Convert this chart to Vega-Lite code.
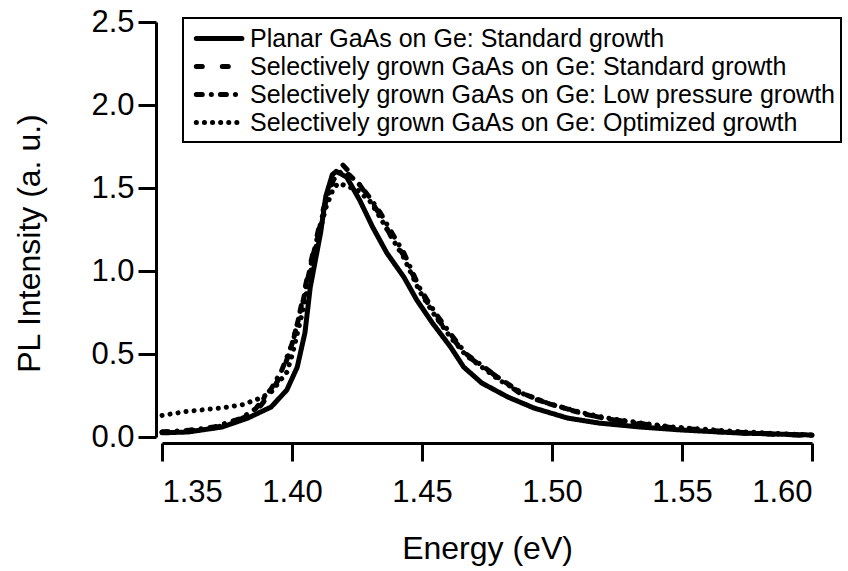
{
  "$schema": "https://vega.github.io/schema/vega-lite/v6.json",
  "width": 650,
  "height": 415,
  "autosize": "none",
  "padding": {"left": 162, "top": 22, "right": 36, "bottom": 134},
  "background": "white",
  "config": {
    "view": {"stroke": null},
    "font": "Liberation Sans",
    "axis": {
      "grid": false,
      "domainColor": "black",
      "domainWidth": 3,
      "tickColor": "black",
      "tickWidth": 3,
      "tickSize": 18,
      "labelFont": "Liberation Sans",
      "labelFontSize": 31,
      "labelColor": "black",
      "titleFont": "Liberation Sans",
      "titleFontSize": 32,
      "titleFontWeight": "normal",
      "titleColor": "black",
      "offset": 6
    },
    "legend": {
      "labelFont": "Liberation Sans",
      "labelFontSize": 25,
      "labelColor": "black",
      "labelLimit": 800
    }
  },
  "data": {
    "values": [
      {"series": "Planar GaAs on Ge: Standard growth", "E": 1.350, "I": 0.025},
      {"series": "Planar GaAs on Ge: Standard growth", "E": 1.360, "I": 0.030},
      {"series": "Planar GaAs on Ge: Standard growth", "E": 1.373, "I": 0.060},
      {"series": "Planar GaAs on Ge: Standard growth", "E": 1.383, "I": 0.114},
      {"series": "Planar GaAs on Ge: Standard growth", "E": 1.392, "I": 0.181},
      {"series": "Planar GaAs on Ge: Standard growth", "E": 1.398, "I": 0.283},
      {"series": "Planar GaAs on Ge: Standard growth", "E": 1.402, "I": 0.420},
      {"series": "Planar GaAs on Ge: Standard growth", "E": 1.405, "I": 0.630},
      {"series": "Planar GaAs on Ge: Standard growth", "E": 1.407, "I": 0.900},
      {"series": "Planar GaAs on Ge: Standard growth", "E": 1.411, "I": 1.230},
      {"series": "Planar GaAs on Ge: Standard growth", "E": 1.413, "I": 1.450},
      {"series": "Planar GaAs on Ge: Standard growth", "E": 1.4155, "I": 1.580},
      {"series": "Planar GaAs on Ge: Standard growth", "E": 1.417, "I": 1.600},
      {"series": "Planar GaAs on Ge: Standard growth", "E": 1.421, "I": 1.566},
      {"series": "Planar GaAs on Ge: Standard growth", "E": 1.426, "I": 1.428},
      {"series": "Planar GaAs on Ge: Standard growth", "E": 1.431, "I": 1.265},
      {"series": "Planar GaAs on Ge: Standard growth", "E": 1.4365, "I": 1.108},
      {"series": "Planar GaAs on Ge: Standard growth", "E": 1.443, "I": 0.964},
      {"series": "Planar GaAs on Ge: Standard growth", "E": 1.448, "I": 0.825},
      {"series": "Planar GaAs on Ge: Standard growth", "E": 1.454, "I": 0.687},
      {"series": "Planar GaAs on Ge: Standard growth", "E": 1.461, "I": 0.542},
      {"series": "Planar GaAs on Ge: Standard growth", "E": 1.466, "I": 0.422},
      {"series": "Planar GaAs on Ge: Standard growth", "E": 1.473, "I": 0.325},
      {"series": "Planar GaAs on Ge: Standard growth", "E": 1.483, "I": 0.241},
      {"series": "Planar GaAs on Ge: Standard growth", "E": 1.493, "I": 0.175},
      {"series": "Planar GaAs on Ge: Standard growth", "E": 1.506, "I": 0.114},
      {"series": "Planar GaAs on Ge: Standard growth", "E": 1.518, "I": 0.084},
      {"series": "Planar GaAs on Ge: Standard growth", "E": 1.534, "I": 0.060},
      {"series": "Planar GaAs on Ge: Standard growth", "E": 1.550, "I": 0.042},
      {"series": "Planar GaAs on Ge: Standard growth", "E": 1.572, "I": 0.024},
      {"series": "Planar GaAs on Ge: Standard growth", "E": 1.600, "I": 0.012},

      {"series": "Selectively grown GaAs on Ge: Standard growth", "E": 1.350, "I": 0.030},
      {"series": "Selectively grown GaAs on Ge: Standard growth", "E": 1.360, "I": 0.035},
      {"series": "Selectively grown GaAs on Ge: Standard growth", "E": 1.370, "I": 0.055},
      {"series": "Selectively grown GaAs on Ge: Standard growth", "E": 1.378, "I": 0.090},
      {"series": "Selectively grown GaAs on Ge: Standard growth", "E": 1.383, "I": 0.130},
      {"series": "Selectively grown GaAs on Ge: Standard growth", "E": 1.388, "I": 0.190},
      {"series": "Selectively grown GaAs on Ge: Standard growth", "E": 1.392, "I": 0.270},
      {"series": "Selectively grown GaAs on Ge: Standard growth", "E": 1.396, "I": 0.380},
      {"series": "Selectively grown GaAs on Ge: Standard growth", "E": 1.400, "I": 0.550},
      {"series": "Selectively grown GaAs on Ge: Standard growth", "E": 1.403, "I": 0.750},
      {"series": "Selectively grown GaAs on Ge: Standard growth", "E": 1.406, "I": 0.970},
      {"series": "Selectively grown GaAs on Ge: Standard growth", "E": 1.409, "I": 1.170},
      {"series": "Selectively grown GaAs on Ge: Standard growth", "E": 1.412, "I": 1.370},
      {"series": "Selectively grown GaAs on Ge: Standard growth", "E": 1.415, "I": 1.530},
      {"series": "Selectively grown GaAs on Ge: Standard growth", "E": 1.4175, "I": 1.620},
      {"series": "Selectively grown GaAs on Ge: Standard growth", "E": 1.4192, "I": 1.645},
      {"series": "Selectively grown GaAs on Ge: Standard growth", "E": 1.4242, "I": 1.560},
      {"series": "Selectively grown GaAs on Ge: Standard growth", "E": 1.430, "I": 1.430},
      {"series": "Selectively grown GaAs on Ge: Standard growth", "E": 1.4338, "I": 1.340},
      {"series": "Selectively grown GaAs on Ge: Standard growth", "E": 1.4377, "I": 1.220},
      {"series": "Selectively grown GaAs on Ge: Standard growth", "E": 1.4427, "I": 1.100},
      {"series": "Selectively grown GaAs on Ge: Standard growth", "E": 1.4492, "I": 0.890},
      {"series": "Selectively grown GaAs on Ge: Standard growth", "E": 1.4542, "I": 0.750},
      {"series": "Selectively grown GaAs on Ge: Standard growth", "E": 1.4608, "I": 0.610},
      {"series": "Selectively grown GaAs on Ge: Standard growth", "E": 1.4673, "I": 0.490},
      {"series": "Selectively grown GaAs on Ge: Standard growth", "E": 1.4735, "I": 0.420},
      {"series": "Selectively grown GaAs on Ge: Standard growth", "E": 1.480, "I": 0.350},
      {"series": "Selectively grown GaAs on Ge: Standard growth", "E": 1.4888, "I": 0.250},
      {"series": "Selectively grown GaAs on Ge: Standard growth", "E": 1.4992, "I": 0.200},
      {"series": "Selectively grown GaAs on Ge: Standard growth", "E": 1.512, "I": 0.140},
      {"series": "Selectively grown GaAs on Ge: Standard growth", "E": 1.521, "I": 0.110},
      {"series": "Selectively grown GaAs on Ge: Standard growth", "E": 1.534, "I": 0.080},
      {"series": "Selectively grown GaAs on Ge: Standard growth", "E": 1.5465, "I": 0.050},
      {"series": "Selectively grown GaAs on Ge: Standard growth", "E": 1.5596, "I": 0.036},
      {"series": "Selectively grown GaAs on Ge: Standard growth", "E": 1.572, "I": 0.024},
      {"series": "Selectively grown GaAs on Ge: Standard growth", "E": 1.599, "I": 0.008},

      {"series": "Selectively grown GaAs on Ge: Low pressure growth", "E": 1.350, "I": 0.030},
      {"series": "Selectively grown GaAs on Ge: Low pressure growth", "E": 1.360, "I": 0.040},
      {"series": "Selectively grown GaAs on Ge: Low pressure growth", "E": 1.370, "I": 0.060},
      {"series": "Selectively grown GaAs on Ge: Low pressure growth", "E": 1.380, "I": 0.110},
      {"series": "Selectively grown GaAs on Ge: Low pressure growth", "E": 1.386, "I": 0.170},
      {"series": "Selectively grown GaAs on Ge: Low pressure growth", "E": 1.392, "I": 0.290},
      {"series": "Selectively grown GaAs on Ge: Low pressure growth", "E": 1.396, "I": 0.400},
      {"series": "Selectively grown GaAs on Ge: Low pressure growth", "E": 1.400, "I": 0.560},
      {"series": "Selectively grown GaAs on Ge: Low pressure growth", "E": 1.404, "I": 0.800},
      {"series": "Selectively grown GaAs on Ge: Low pressure growth", "E": 1.407, "I": 1.020},
      {"series": "Selectively grown GaAs on Ge: Low pressure growth", "E": 1.410, "I": 1.220},
      {"series": "Selectively grown GaAs on Ge: Low pressure growth", "E": 1.413, "I": 1.420},
      {"series": "Selectively grown GaAs on Ge: Low pressure growth", "E": 1.416, "I": 1.550},
      {"series": "Selectively grown GaAs on Ge: Low pressure growth", "E": 1.419, "I": 1.600},
      {"series": "Selectively grown GaAs on Ge: Low pressure growth", "E": 1.422, "I": 1.580},
      {"series": "Selectively grown GaAs on Ge: Low pressure growth", "E": 1.426, "I": 1.520},
      {"series": "Selectively grown GaAs on Ge: Low pressure growth", "E": 1.430, "I": 1.440},
      {"series": "Selectively grown GaAs on Ge: Low pressure growth", "E": 1.434, "I": 1.350},
      {"series": "Selectively grown GaAs on Ge: Low pressure growth", "E": 1.438, "I": 1.240},
      {"series": "Selectively grown GaAs on Ge: Low pressure growth", "E": 1.443, "I": 1.110},
      {"series": "Selectively grown GaAs on Ge: Low pressure growth", "E": 1.449, "I": 0.900},
      {"series": "Selectively grown GaAs on Ge: Low pressure growth", "E": 1.455, "I": 0.750},
      {"series": "Selectively grown GaAs on Ge: Low pressure growth", "E": 1.461, "I": 0.620},
      {"series": "Selectively grown GaAs on Ge: Low pressure growth", "E": 1.467, "I": 0.500},
      {"series": "Selectively grown GaAs on Ge: Low pressure growth", "E": 1.474, "I": 0.420},
      {"series": "Selectively grown GaAs on Ge: Low pressure growth", "E": 1.480, "I": 0.350},
      {"series": "Selectively grown GaAs on Ge: Low pressure growth", "E": 1.489, "I": 0.260},
      {"series": "Selectively grown GaAs on Ge: Low pressure growth", "E": 1.499, "I": 0.200},
      {"series": "Selectively grown GaAs on Ge: Low pressure growth", "E": 1.512, "I": 0.140},
      {"series": "Selectively grown GaAs on Ge: Low pressure growth", "E": 1.521, "I": 0.110},
      {"series": "Selectively grown GaAs on Ge: Low pressure growth", "E": 1.534, "I": 0.080},
      {"series": "Selectively grown GaAs on Ge: Low pressure growth", "E": 1.547, "I": 0.055},
      {"series": "Selectively grown GaAs on Ge: Low pressure growth", "E": 1.560, "I": 0.040},
      {"series": "Selectively grown GaAs on Ge: Low pressure growth", "E": 1.572, "I": 0.028},
      {"series": "Selectively grown GaAs on Ge: Low pressure growth", "E": 1.585, "I": 0.018},
      {"series": "Selectively grown GaAs on Ge: Low pressure growth", "E": 1.600, "I": 0.010},

      {"series": "Selectively grown GaAs on Ge: Optimized growth", "E": 1.350, "I": 0.130},
      {"series": "Selectively grown GaAs on Ge: Optimized growth", "E": 1.360, "I": 0.155},
      {"series": "Selectively grown GaAs on Ge: Optimized growth", "E": 1.373, "I": 0.175},
      {"series": "Selectively grown GaAs on Ge: Optimized growth", "E": 1.381, "I": 0.195},
      {"series": "Selectively grown GaAs on Ge: Optimized growth", "E": 1.388, "I": 0.235},
      {"series": "Selectively grown GaAs on Ge: Optimized growth", "E": 1.392, "I": 0.270},
      {"series": "Selectively grown GaAs on Ge: Optimized growth", "E": 1.395, "I": 0.330},
      {"series": "Selectively grown GaAs on Ge: Optimized growth", "E": 1.398, "I": 0.390},
      {"series": "Selectively grown GaAs on Ge: Optimized growth", "E": 1.400, "I": 0.490},
      {"series": "Selectively grown GaAs on Ge: Optimized growth", "E": 1.402, "I": 0.620},
      {"series": "Selectively grown GaAs on Ge: Optimized growth", "E": 1.404, "I": 0.750},
      {"series": "Selectively grown GaAs on Ge: Optimized growth", "E": 1.407, "I": 0.980},
      {"series": "Selectively grown GaAs on Ge: Optimized growth", "E": 1.410, "I": 1.200},
      {"series": "Selectively grown GaAs on Ge: Optimized growth", "E": 1.413, "I": 1.380},
      {"series": "Selectively grown GaAs on Ge: Optimized growth", "E": 1.416, "I": 1.500},
      {"series": "Selectively grown GaAs on Ge: Optimized growth", "E": 1.418, "I": 1.530},
      {"series": "Selectively grown GaAs on Ge: Optimized growth", "E": 1.421, "I": 1.510},
      {"series": "Selectively grown GaAs on Ge: Optimized growth", "E": 1.425, "I": 1.490},
      {"series": "Selectively grown GaAs on Ge: Optimized growth", "E": 1.430, "I": 1.420},
      {"series": "Selectively grown GaAs on Ge: Optimized growth", "E": 1.434, "I": 1.320},
      {"series": "Selectively grown GaAs on Ge: Optimized growth", "E": 1.438, "I": 1.210},
      {"series": "Selectively grown GaAs on Ge: Optimized growth", "E": 1.443, "I": 1.080},
      {"series": "Selectively grown GaAs on Ge: Optimized growth", "E": 1.449, "I": 0.880},
      {"series": "Selectively grown GaAs on Ge: Optimized growth", "E": 1.455, "I": 0.730},
      {"series": "Selectively grown GaAs on Ge: Optimized growth", "E": 1.461, "I": 0.600},
      {"series": "Selectively grown GaAs on Ge: Optimized growth", "E": 1.467, "I": 0.490},
      {"series": "Selectively grown GaAs on Ge: Optimized growth", "E": 1.474, "I": 0.410},
      {"series": "Selectively grown GaAs on Ge: Optimized growth", "E": 1.480, "I": 0.340},
      {"series": "Selectively grown GaAs on Ge: Optimized growth", "E": 1.489, "I": 0.260},
      {"series": "Selectively grown GaAs on Ge: Optimized growth", "E": 1.499, "I": 0.200},
      {"series": "Selectively grown GaAs on Ge: Optimized growth", "E": 1.512, "I": 0.145},
      {"series": "Selectively grown GaAs on Ge: Optimized growth", "E": 1.521, "I": 0.115},
      {"series": "Selectively grown GaAs on Ge: Optimized growth", "E": 1.534, "I": 0.085},
      {"series": "Selectively grown GaAs on Ge: Optimized growth", "E": 1.547, "I": 0.060},
      {"series": "Selectively grown GaAs on Ge: Optimized growth", "E": 1.560, "I": 0.045},
      {"series": "Selectively grown GaAs on Ge: Optimized growth", "E": 1.572, "I": 0.033},
      {"series": "Selectively grown GaAs on Ge: Optimized growth", "E": 1.585, "I": 0.022},
      {"series": "Selectively grown GaAs on Ge: Optimized growth", "E": 1.600, "I": 0.012}
    ]
  },
  "mark": {"type": "line", "color": "black", "strokeWidth": 5, "strokeCap": "round", "strokeJoin": "round", "clip": false},
  "encoding": {
    "x": {
      "field": "E", "type": "quantitative",
      "scale": {"domain": [1.35, 1.60], "nice": false, "zero": false},
      "axis": {"values": [1.35, 1.40, 1.45, 1.50, 1.55, 1.60], "format": ".2f", "title": "Energy (eV)", "labelPadding": 16, "titlePadding": 26}
    },
    "y": {
      "field": "I", "type": "quantitative",
      "scale": {"domain": [0, 2.5], "nice": false},
      "axis": {"values": [0, 0.5, 1.0, 1.5, 2.0, 2.5], "format": ".1f", "title": "PL Intensity (a. u.)", "labelPadding": 4, "titlePadding": 44, "titleY": 221}
    },
    "strokeDash": {
      "field": "series", "type": "nominal",
      "scale": {
        "domain": [
          "Planar GaAs on Ge: Standard growth",
          "Selectively grown GaAs on Ge: Standard growth",
          "Selectively grown GaAs on Ge: Low pressure growth",
          "Selectively grown GaAs on Ge: Optimized growth"
        ],
        "range": [[1, 0], [6, 20], [6, 9, 0.1, 9], [0.1, 8]]
      },
      "legend": {
        "title": null,
        "orient": "none",
        "legendX": 21,
        "legendY": -4,
        "symbolType": "M-0.6,0H3.2",
        "symbolSize": 576,
        "symbolStrokeWidth": 5,
        "symbolStrokeColor": "black",
        "symbolFillColor": "transparent",
        "strokeColor": "black",
        "fillColor": "white",
        "padding": 6,
        "labelOffset": 32,
        "rowPadding": 0,
        "cornerRadius": 0,
        "encode": {
          "symbols": {"update": {"strokeCap": {"value": "round"}}},
          "legend": {"update": {"strokeWidth": {"value": 2}}}
        }
      }
    }
  }
}
